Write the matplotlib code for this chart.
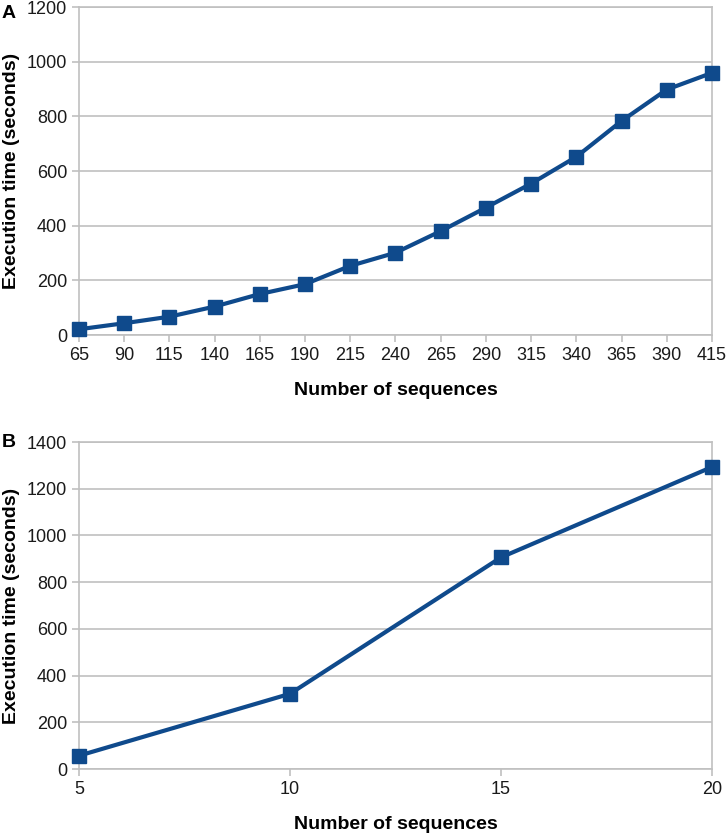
import matplotlib
matplotlib.use("Agg")
import matplotlib.pyplot as plt
from matplotlib import font_manager

names = {f.name for f in font_manager.fontManager.ttflist}
tick_font = "Liberation Sans Narrow" if "Liberation Sans Narrow" in names else "Liberation Sans"

# Panel A data
seqs_a = [65, 90, 115, 140, 165, 190, 215, 240, 265, 290, 315, 340, 365, 390, 415]
time_a = [21, 43, 67, 104, 150, 186, 253, 301, 380, 466, 554, 652, 783, 898, 959]
yticks_a = [0, 200, 400, 600, 800, 1000, 1200]

# Panel B data
seqs_b = [5, 10, 15, 20]
time_b = [57, 322, 906, 1293]
yticks_b = [0, 200, 400, 600, 800, 1000, 1200, 1400]

W, H = 726, 836
fig = plt.figure(figsize=(W / 100, H / 100), dpi=100)

line_col = "#0f4a8c"
grid_col = "#c0c0c0"
AX_L, AX_R = 79, 712

def setup(ax, xs, ys, yticks, ymax):
    ax.plot(xs, ys, color=line_col, lw=3, marker="s", ms=10,
            markerfacecolor=line_col, markeredgecolor=line_col, zorder=3, clip_on=False)
    ax.set_xlim(xs[0], xs[-1])
    ax.set_ylim(0, ymax)
    ax.set_xticks(xs)
    ax.set_yticks(yticks)
    ax.grid(axis="y", color=grid_col, lw=1.2)
    for s in ax.spines.values():
        s.set_color(grid_col)
        s.set_linewidth(1.2)
    ax.tick_params(axis="both", colors=grid_col, length=5, width=1.2, labelcolor="#1a1a1a",
                   labelsize=13)
    for t in ax.get_xticklabels() + ax.get_yticklabels():
        t.set_fontfamily(tick_font)
    ax.set_xlabel("Number of sequences", fontsize=14, fontweight="bold",
                  family="Liberation Sans", labelpad=13)
    ax.set_ylabel("Execution time (seconds)", fontsize=14, fontweight="bold",
                  family="Liberation Sans")
    ax.yaxis.set_label_coords((20 - AX_L) / (AX_R - AX_L), 0.5)

axA = fig.add_axes([AX_L / W, 1 - 335 / H, (AX_R - AX_L) / W, (335 - 7) / H])
setup(axA, seqs_a, time_a, yticks_a, 1200)
axB = fig.add_axes([AX_L / W, 1 - 769 / H, (AX_R - AX_L) / W, (769 - 442) / H])
setup(axB, seqs_b, time_b, yticks_b, 1400)

fig.text(2 / W, 1 - 13 / H, "A", fontsize=14, fontweight="bold", family="Liberation Sans", va="center")
fig.text(2 / W, 1 - 443 / H, "B", fontsize=14, fontweight="bold", family="Liberation Sans", va="center")

fig.savefig("out.png", dpi=100)
